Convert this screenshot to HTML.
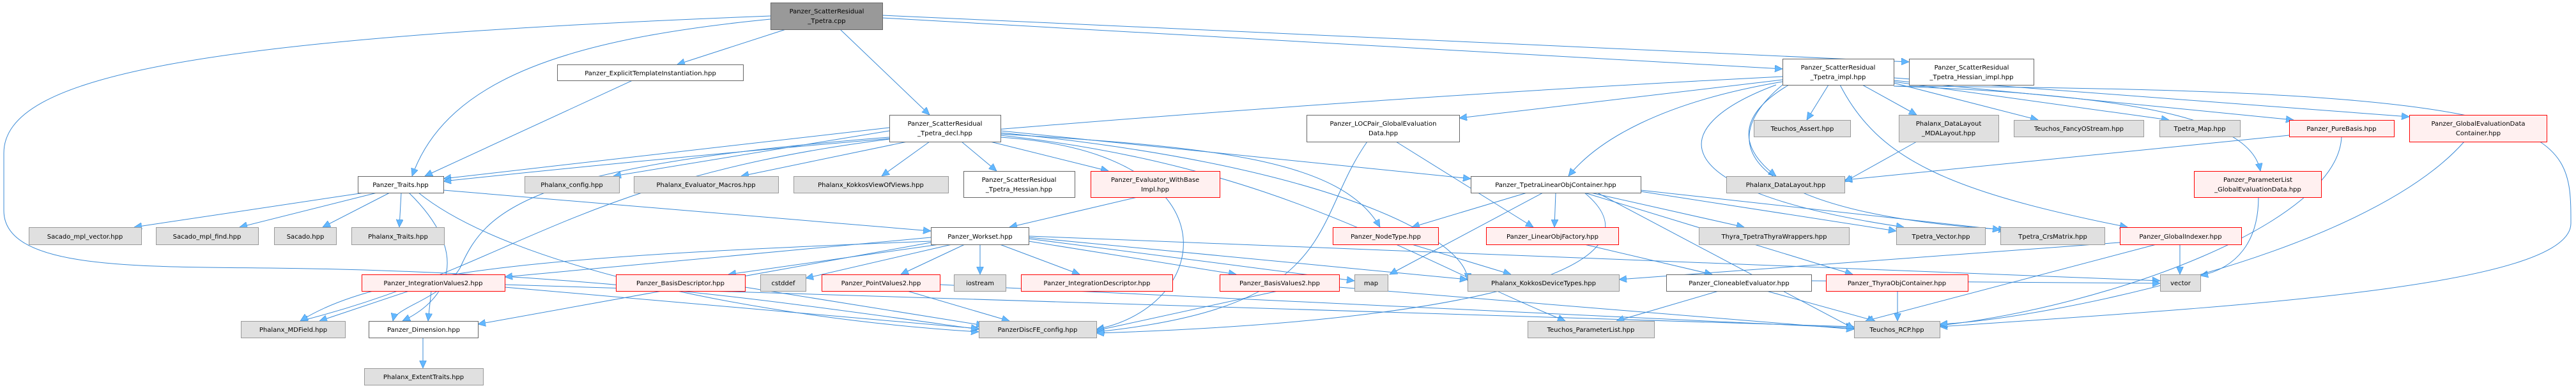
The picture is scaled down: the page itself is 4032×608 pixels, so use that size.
<!DOCTYPE html>
<html><head><meta charset="utf-8"><style>
html,body{margin:0;padding:0;background:#fff;}
svg{display:block;}
text{font-family:"DejaVu Sans","Liberation Sans",sans-serif;font-size:10px;fill:#000;}
.e{fill:none;stroke:#3a8ad6;stroke-width:1;}
.w{fill:#fff;stroke:#666;}
.g{fill:#e0e0e0;stroke:#999;}
.r{fill:#fff0f0;stroke:#ff0000;}
.k{fill:#999;stroke:#666;}
</style></head><body>
<svg width="4032" height="608" viewBox="0 0 4032 608" xmlns="http://www.w3.org/2000/svg">
<defs><marker id="a" markerWidth="13" markerHeight="11" refX="12" refY="5.5" orient="auto" markerUnits="userSpaceOnUse"><path d="M0,0 L12,5.5 L0,11 Z" fill="#63b8ff" stroke="#3a8ad6" stroke-width="0.6"/></marker></defs>
<g class="e" marker-end="url(#a)">
<path d="M1230,46 L1060,101"/>
<path d="M1315,46 L1455,180"/>
<path d="M1206,30 C900,60 700,120 645,276"/>
<path d="M1381,28 L2790,108"/>
<path d="M1381,24 L2988,97"/>
<path d="M1206,25 C300,60 6,120 6,240 L6,330 C6,420 200,418 420,420 C900,425 1200,470 1532,516"/>
<path d="M990,126 L665,276"/>
<path d="M1392,200 L694,280"/>
<path d="M1392,205 L960,276"/>
<path d="M1420,222 L1160,276"/>
<path d="M1455,222 L1380,276"/>
<path d="M1505,222 L1560,268"/>
<path d="M1550,222 L1735,268"/>
<path d="M1566,215 C1940,240 1900,480 1716,516"/>
<path d="M1566,205 L2302,280"/>
<path d="M1566,210 C1900,230 2100,250 2160,356"/>
<path d="M1392,215 C820,260 760,330 720,420 C690,470 620,480 615,503"/>
<path d="M1392,218 C900,280 800,420 470,503"/>
<path d="M1566,212 C2000,260 2200,400 2450,503"/>
<path d="M1566,208 C2100,260 2300,380 2297,440"/>
<path d="M1780,309 L1580,356"/>
<path d="M570,302 L210,356"/>
<path d="M590,302 L375,356"/>
<path d="M610,302 L505,356"/>
<path d="M628,302 L625,356"/>
<path d="M694,298 L1457,362"/>
<path d="M655,302 C800,420 1200,500 1532,520"/>
<path d="M640,302 C740,400 700,470 630,503"/>
<path d="M1457,372 L790,434"/>
<path d="M1470,383 L1140,430"/>
<path d="M1490,383 L1261,436"/>
<path d="M1510,383 L1410,430"/>
<path d="M1534,383 L1534,430"/>
<path d="M1565,383 L1690,430"/>
<path d="M1610,378 L1935,430"/>
<path d="M1610,374 L2120,440"/>
<path d="M1610,372 L2297,438"/>
<path d="M1610,370 L3381,440"/>
<path d="M1457,378 C900,400 600,420 470,503"/>
<path d="M1457,380 L748,508"/>
<path d="M640,456 L500,503"/>
<path d="M675,456 L670,503"/>
<path d="M790,450 L1532,515"/>
<path d="M790,446 L2902,512"/>
<path d="M1166,450 L1540,510"/>
<path d="M1420,456 L1580,503"/>
<path d="M1471,446 L2902,514"/>
<path d="M2000,456 L1716,518"/>
<path d="M2096,450 L2902,516"/>
<path d="M662,529 L662,577"/>
<path d="M2790,125 L2284,185"/>
<path d="M2790,128 C2600,160 2500,220 2455,276"/>
<path d="M2862,133 L2828,188"/>
<path d="M2915,133 L3000,180"/>
<path d="M2964,130 L3190,188"/>
<path d="M2964,128 L3395,188"/>
<path d="M2964,126 L3590,188"/>
<path d="M2964,122 L3771,183"/>
<path d="M2964,135 C3400,150 3525,200 3538,268"/>
<path d="M2800,133 C2720,180 2720,230 2780,276"/>
<path d="M2780,133 C2600,200 2600,300 2980,356"/>
<path d="M2790,133 C2650,250 2800,340 3140,360"/>
<path d="M2880,133 C2940,250 3050,300 3330,356"/>
<path d="M2964,135 C4024,140 4024,200 4024,350 C4024,450 3500,480 3036,512"/>
<path d="M2790,120 C2000,160 1200,230 694,284"/>
<path d="M2185,222 L2400,356"/>
<path d="M2140,222 C2050,350 2100,480 1716,520"/>
<path d="M2390,302 L2210,356"/>
<path d="M2435,302 L2433,356"/>
<path d="M2490,302 L2730,356"/>
<path d="M2568,300 L2968,362"/>
<path d="M2568,298 L3131,360"/>
<path d="M2415,302 L2175,430"/>
<path d="M2480,302 L2900,430"/>
<path d="M2480,302 C2600,400 2400,500 1716,522"/>
<path d="M2500,302 L2902,515"/>
<path d="M2210,383 L2365,430"/>
<path d="M2480,383 L2680,430"/>
<path d="M2690,456 L2530,503"/>
<path d="M2765,456 L2935,503"/>
<path d="M2970,456 L2970,503"/>
<path d="M3412,383 L3412,430"/>
<path d="M3375,383 L2920,503"/>
<path d="M3318,380 L2534,438"/>
<path d="M3535,309 C3535,380 3500,420 3444,432"/>
<path d="M3583,212 L2887,282"/>
<path d="M3665,214 C3660,350 3300,480 3036,510"/>
<path d="M3857,222 C3700,400 3200,500 3036,508"/>
<path d="M3000,222 L2887,285"/>
<path d="M2835,440 L3381,444"/>
</g>
<g>
<rect class="k" x="1206.5" y="4.5" width="175" height="42"/><text x="1294" y="21" text-anchor="middle">Panzer_ScatterResidual</text><text x="1294" y="36" text-anchor="middle">_Tpetra.cpp</text>
<rect class="w" x="872.5" y="101.5" width="291" height="25"/><text x="1018" y="118" text-anchor="middle">Panzer_ExplicitTemplateInstantiation.hpp</text>
<rect class="w" x="1392.5" y="180.5" width="174" height="42"/><text x="1479" y="197" text-anchor="middle">Panzer_ScatterResidual</text><text x="1479" y="212" text-anchor="middle">_Tpetra_decl.hpp</text>
<rect class="w" x="2790.5" y="92.5" width="174" height="41"/><text x="2877" y="109" text-anchor="middle">Panzer_ScatterResidual</text><text x="2877" y="124" text-anchor="middle">_Tpetra_impl.hpp</text>
<rect class="w" x="2988.5" y="92.5" width="195" height="41"/><text x="3086" y="109" text-anchor="middle">Panzer_ScatterResidual</text><text x="3086" y="124" text-anchor="middle">_Tpetra_Hessian_impl.hpp</text>
<rect class="w" x="560.5" y="276.5" width="134" height="26"/><text x="627" y="293" text-anchor="middle">Panzer_Traits.hpp</text>
<rect class="g" x="821.5" y="276.5" width="148" height="26"/><text x="895" y="293" text-anchor="middle">Phalanx_config.hpp</text>
<rect class="g" x="992.5" y="276.5" width="226" height="26"/><text x="1105" y="293" text-anchor="middle">Phalanx_Evaluator_Macros.hpp</text>
<rect class="g" x="1242.5" y="276.5" width="242" height="26"/><text x="1363" y="293" text-anchor="middle">Phalanx_KokkosViewOfViews.hpp</text>
<rect class="w" x="1508.5" y="268.5" width="174" height="41"/><text x="1595" y="285" text-anchor="middle">Panzer_ScatterResidual</text><text x="1595" y="300" text-anchor="middle">_Tpetra_Hessian.hpp</text>
<rect class="r" x="1707.5" y="268.5" width="202" height="41"/><text x="1808" y="285" text-anchor="middle">Panzer_Evaluator_WithBase</text><text x="1808" y="300" text-anchor="middle">Impl.hpp</text>
<rect class="w" x="2045.5" y="180.5" width="239" height="42"/><text x="2165" y="197" text-anchor="middle">Panzer_LOCPair_GlobalEvaluation</text><text x="2165" y="212" text-anchor="middle">Data.hpp</text>
<rect class="w" x="2302.5" y="276.5" width="266" height="26"/><text x="2435" y="293" text-anchor="middle">Panzer_TpetraLinearObjContainer.hpp</text>
<rect class="g" x="2745.5" y="188.5" width="151" height="26"/><text x="2821" y="205" text-anchor="middle">Teuchos_Assert.hpp</text>
<rect class="g" x="2972.5" y="180.5" width="156" height="42"/><text x="3050" y="197" text-anchor="middle">Phalanx_DataLayout</text><text x="3050" y="212" text-anchor="middle">_MDALayout.hpp</text>
<rect class="g" x="3152.5" y="188.5" width="203" height="26"/><text x="3254" y="205" text-anchor="middle">Teuchos_FancyOStream.hpp</text>
<rect class="g" x="3380.5" y="188.5" width="126" height="26"/><text x="3443" y="205" text-anchor="middle">Tpetra_Map.hpp</text>
<rect class="r" x="3583.5" y="188.5" width="164" height="26"/><text x="3665" y="205" text-anchor="middle">Panzer_PureBasis.hpp</text>
<rect class="r" x="3771.5" y="180.5" width="215" height="42"/><text x="3879" y="197" text-anchor="middle">Panzer_GlobalEvaluationData</text><text x="3879" y="212" text-anchor="middle">Container.hpp</text>
<rect class="g" x="2702.5" y="276.5" width="185" height="26"/><text x="2795" y="293" text-anchor="middle">Phalanx_DataLayout.hpp</text>
<rect class="r" x="3434.5" y="268.5" width="199" height="41"/><text x="3534" y="285" text-anchor="middle">Panzer_ParameterList</text><text x="3534" y="300" text-anchor="middle">_GlobalEvaluationData.hpp</text>
<rect class="g" x="45.5" y="356.5" width="176" height="27"/><text x="133" y="374" text-anchor="middle">Sacado_mpl_vector.hpp</text>
<rect class="g" x="244.5" y="356.5" width="160" height="27"/><text x="324" y="374" text-anchor="middle">Sacado_mpl_find.hpp</text>
<rect class="g" x="429.5" y="356.5" width="97" height="27"/><text x="478" y="374" text-anchor="middle">Sacado.hpp</text>
<rect class="g" x="550.5" y="356.5" width="145" height="27"/><text x="623" y="374" text-anchor="middle">Phalanx_Traits.hpp</text>
<rect class="w" x="1457.5" y="356.5" width="153" height="27"/><text x="1534" y="374" text-anchor="middle">Panzer_Workset.hpp</text>
<rect class="r" x="2086.5" y="356.5" width="165" height="27"/><text x="2169" y="374" text-anchor="middle">Panzer_NodeType.hpp</text>
<rect class="r" x="2326.5" y="356.5" width="207" height="27"/><text x="2430" y="374" text-anchor="middle">Panzer_LinearObjFactory.hpp</text>
<rect class="g" x="2659.5" y="356.5" width="235" height="27"/><text x="2777" y="374" text-anchor="middle">Thyra_TpetraThyraWrappers.hpp</text>
<rect class="g" x="2968.5" y="356.5" width="139" height="27"/><text x="3038" y="374" text-anchor="middle">Tpetra_Vector.hpp</text>
<rect class="g" x="3131.5" y="356.5" width="163" height="27"/><text x="3213" y="374" text-anchor="middle">Tpetra_CrsMatrix.hpp</text>
<rect class="r" x="3318.5" y="356.5" width="190" height="27"/><text x="3413" y="374" text-anchor="middle">Panzer_GlobalIndexer.hpp</text>
<rect class="r" x="566.5" y="430.5" width="224" height="26"/><text x="678" y="447" text-anchor="middle">Panzer_IntegrationValues2.hpp</text>
<rect class="r" x="964.5" y="430.5" width="202" height="26"/><text x="1065" y="447" text-anchor="middle">Panzer_BasisDescriptor.hpp</text>
<rect class="g" x="1190.5" y="430.5" width="71" height="26"/><text x="1226" y="447" text-anchor="middle">cstddef</text>
<rect class="r" x="1286.5" y="430.5" width="185" height="26"/><text x="1379" y="447" text-anchor="middle">Panzer_PointValues2.hpp</text>
<rect class="g" x="1493.5" y="430.5" width="81" height="26"/><text x="1534" y="447" text-anchor="middle">iostream</text>
<rect class="r" x="1598.5" y="430.5" width="237" height="26"/><text x="1717" y="447" text-anchor="middle">Panzer_IntegrationDescriptor.hpp</text>
<rect class="r" x="1909.5" y="430.5" width="187" height="26"/><text x="2003" y="447" text-anchor="middle">Panzer_BasisValues2.hpp</text>
<rect class="g" x="2120.5" y="430.5" width="52" height="26"/><text x="2146" y="447" text-anchor="middle">map</text>
<rect class="g" x="2297.5" y="430.5" width="237" height="26"/><text x="2416" y="447" text-anchor="middle">Phalanx_KokkosDeviceTypes.hpp</text>
<rect class="w" x="2608.5" y="430.5" width="227" height="26"/><text x="2722" y="447" text-anchor="middle">Panzer_CloneableEvaluator.hpp</text>
<rect class="r" x="2858.5" y="430.5" width="222" height="26"/><text x="2969" y="447" text-anchor="middle">Panzer_ThyraObjContainer.hpp</text>
<rect class="g" x="3381.5" y="430.5" width="63" height="26"/><text x="3413" y="447" text-anchor="middle">vector</text>
<rect class="g" x="377.5" y="503.5" width="163" height="26"/><text x="459" y="520" text-anchor="middle">Phalanx_MDField.hpp</text>
<rect class="w" x="577.5" y="503.5" width="171" height="26"/><text x="663" y="520" text-anchor="middle">Panzer_Dimension.hpp</text>
<rect class="g" x="1532.5" y="503.5" width="184" height="26"/><text x="1624" y="520" text-anchor="middle">PanzerDiscFE_config.hpp</text>
<rect class="g" x="2391.5" y="503.5" width="198" height="26"/><text x="2490" y="520" text-anchor="middle">Teuchos_ParameterList.hpp</text>
<rect class="g" x="2902.5" y="503.5" width="134" height="26"/><text x="2969" y="520" text-anchor="middle">Teuchos_RCP.hpp</text>
<rect class="g" x="570.5" y="577.5" width="186" height="26"/><text x="663" y="594" text-anchor="middle">Phalanx_ExtentTraits.hpp</text>
</g>
</svg>
</body></html>
